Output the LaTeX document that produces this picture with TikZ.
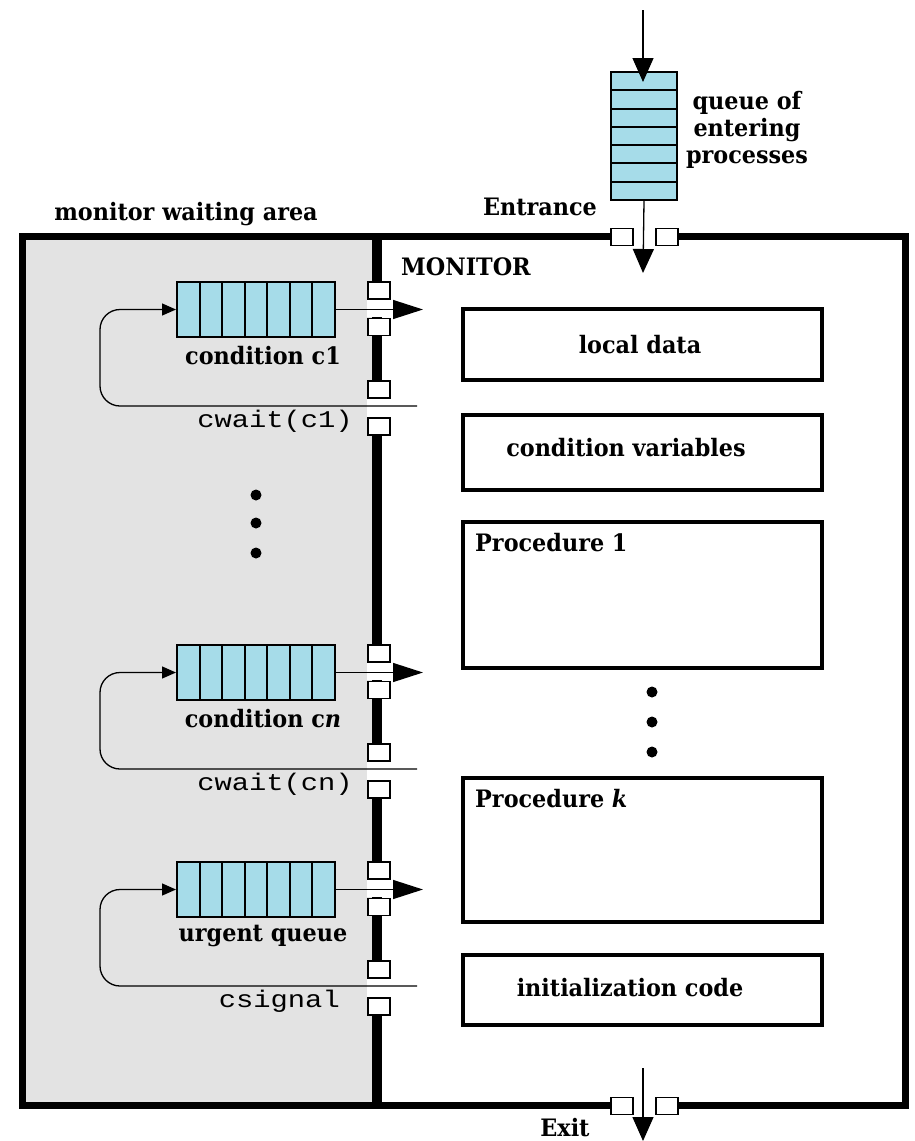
\documentclass[tikz,border=0pt]{standalone}
\usepackage{fontspec}
\setmainfont{DejaVu Serif}[FakeStretch=0.93]
\newfontfamily\monof[FakeStretch=1.2]{Liberation Mono}
\usetikzlibrary{arrows.meta,calc}
\definecolor{qblue}{HTML}{A6DCE9}
\definecolor{wgray}{HTML}{E3E3E3}
\begin{document}
\begin{tikzpicture}[x=1pt,y=-1pt,
  lbl/.style={font=\fontsize{24}{27}\selectfont\bfseries, inner sep=0},
  mono/.style={font=\monof\fontsize{24}{26}\selectfont, inner sep=0},
  box/.style={draw, line width=3.2pt, minimum width=359pt, inner sep=0},
  gate/.style={draw, fill=white, line width=1.3pt, minimum width=22pt, minimum height=17pt, inner sep=0},
  qbox/.style={draw, fill=qblue, line width=2pt, inner sep=0},
  qline/.style={line width=2pt},
  conn/.style={line width=1.3pt},
  bigtip/.style={conn, -{Triangle[length=30pt,width=19pt]}},
  vtip/.style={conn, -{Triangle[length=24pt,width=21pt]}},
  looptip/.style={conn, rounded corners=20pt, -{Triangle[length=14pt,width=12pt]}},
  dot/.style={circle, fill, minimum size=11pt, inner sep=0},
]
\useasboundingbox (0,0) rectangle (914,1141);
% waiting area
\fill[wgray] (22,236) rectangle (372,1105);
\draw[line width=7pt] (22,236) rectangle (905,1105);
\draw[line width=10pt] (377,236) -- (377,1105);
% gaps in frame
\fill[white] (633,228) rectangle (656,246);
\fill[white] (633,1097) rectangle (656,1115);
% labels top
\node[lbl] (wa) at (186,214) {monitor waiting area};
\node[lbl] (ent) at (540,207) {Entrance};
\node[lbl, align=center] (qe) at (747,130) {queue of\\entering\\processes};
\node[lbl, anchor=west] (mon) at (401,267) {MONITOR};
% entering queue
\node[qbox, minimum width=66pt, minimum height=128pt] (eq) at (644,136) {};
\foreach \i in {1,...,6}
  \draw[qline] (611,72+\i*18.286) -- (677,72+\i*18.286);
\coordinate (in) at (643,10);
\coordinate (intip) at (643,82);
\coordinate (entip) at (643,273);
\draw[vtip] (in) -- (intip);
\draw[vtip] (eq.south) -- (entip);
\node[gate] (eg1) at (622,237) {};
\node[gate] (eg2) at (667,237) {};
% exit
\coordinate (exs) at (643,1068);
\coordinate (exe) at (643,1141);
\draw[vtip] (exs) -- (exe);
\node[gate] (xg1) at (622,1106) {};
\node[gate] (xg2) at (667,1106) {};
\node[lbl] (exit) at (565,1128) {Exit};
% condition queues
\foreach \dy/\n/\lab/\sig/\sx in {0/c1/{condition c1}/{cwait(c1)}/353,
                                363/cn/{condition c\textit{n}}/{cwait(cn)}/353,
                                580/ur/{urgent queue}/{csignal}/340} {
  \fill[white] (367,299+\dy) rectangle (391,317+\dy);
  \fill[white] (367,398+\dy) rectangle (391,418+\dy);
  \node[qbox, minimum width=158pt, minimum height=55pt] (q\n) at (256,309.5+\dy) {};
  \foreach \i in {1,...,6}
    \draw[qline] (177+\i*22.571,282+\dy) -- (177+\i*22.571,337+\dy);
  \node[gate] (g1\n) at (379,290.5+\dy) {};
  \node[gate] (g2\n) at (379,327+\dy) {};
  \node[gate] (g3\n) at (379,389.5+\dy) {};
  \node[gate] (g4\n) at (379,426.5+\dy) {};
  \coordinate (out\n) at (423,309.5+\dy);
  \draw[bigtip] (q\n.east) -- (out\n);
  \coordinate (lp\n) at (417,406+\dy);
  \draw[looptip] (lp\n) -- (100,406+\dy) -- (100,309.5+\dy) -- (q\n.west);
  \node[lbl] (l\n) at (263,356+\dy) {\lab};
  \node[mono, anchor=east] (s\n) at (\sx,421+\dy) {\sig};
}
% dots
\node[dot] (d1) at (256,495) {};
\node[dot] (d2) at (256,523) {};
\node[dot] (d3) at (256,553) {};
\node[dot] (d4) at (652,692) {};
\node[dot] (d5) at (652,722) {};
\node[dot] (d6) at (652,752) {};
% monitor boxes
\node[box, minimum height=71pt] (ld) at (642.5,344.5) {};
\node[lbl] (ldt) at (640,345) {local data};
\node[box, minimum height=75pt] (cv) at (642.5,452.5) {};
\node[lbl] (cvt) at (626,448) {condition variables};
\node[box, minimum height=146pt] (p1) at (642.5,595) {};
\node[lbl, anchor=west] (p1t) at (475,543) {Procedure 1};
\node[box, minimum height=144pt] (pk) at (642.5,850) {};
\node[lbl, anchor=west] (pkt) at (475,799) {Procedure \textit{k}};
\node[box, minimum height=70pt] (ic) at (642.5,990) {};
\node[lbl] (ict) at (630,988) {initialization code};
\end{tikzpicture}
\end{document}
